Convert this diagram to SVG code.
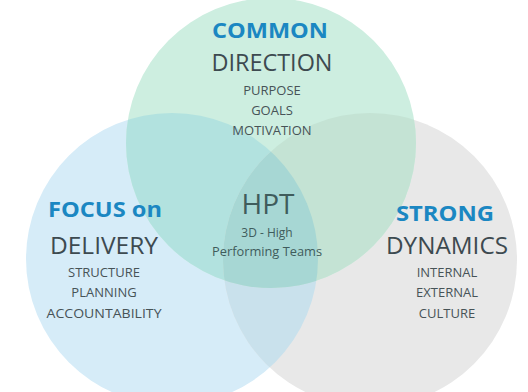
<svg xmlns="http://www.w3.org/2000/svg" width="528" height="392" viewBox="0 0 528 392">
<style>
text{font-family:"Open Sans","Noto Sans","Liberation Sans",sans-serif;text-anchor:middle}
.t{font-weight:bold;fill:#1b87c2;font-size:21px}
.h{fill:#3d4a50;font-size:24px}
.s{fill:#475357;font-size:13px}
.c{fill:#3f5c5c}
</style>
<defs>
<clipPath id="cg"><circle cx="271" cy="143" r="145"/></clipPath>
<clipPath id="cb"><circle cx="172" cy="259" r="146"/></clipPath>
<clipPath id="cy"><circle cx="370" cy="260" r="147"/></clipPath>
</defs>
<rect width="528" height="392" fill="#ffffff"/>
<g id="circle-delivery"><circle cx="172" cy="259" r="146" fill="#d6ecf8"/></g>
<g id="circle-dynamics"><circle cx="370" cy="260" r="147" fill="#e8e8e8"/></g>
<g id="circle-direction"><circle cx="271" cy="143" r="145" fill="#cdeee0"/></g>
<g id="overlaps">
<g clip-path="url(#cb)"><circle cx="271" cy="143" r="145" fill="#b2e2df"/><circle cx="370" cy="260" r="147" fill="#c9e1ec"/></g>
<g clip-path="url(#cg)"><circle cx="370" cy="260" r="147" fill="#c4e3d4"/></g>
<g clip-path="url(#cb)"><g clip-path="url(#cg)"><circle cx="370" cy="260" r="147" fill="#a7d7d4"/></g></g>
</g>
<g id="node-direction">
<text class="t" x="270" y="38" textLength="116" lengthAdjust="spacingAndGlyphs">COMMON</text>
<text class="h" x="272" y="71" textLength="121" lengthAdjust="spacingAndGlyphs">DIRECTION</text>
<text class="s" x="272" y="95">PURPOSE</text>
<text class="s" x="272" y="115">GOALS</text>
<text class="s" x="272" y="135">MOTIVATION</text>
</g>
<g id="node-delivery">
<text class="t" x="105" y="217" textLength="114" lengthAdjust="spacingAndGlyphs">FOCUS on</text>
<text class="h" x="104" y="254" textLength="108" lengthAdjust="spacingAndGlyphs">DELIVERY</text>
<text class="s" x="104" y="277">STRUCTURE</text>
<text class="s" x="104" y="297">PLANNING</text>
<text class="s" x="104" y="318" textLength="115" lengthAdjust="spacingAndGlyphs">ACCOUNTABILITY</text>
</g>
<g id="node-dynamics">
<text class="t" x="445" y="221" textLength="98" lengthAdjust="spacingAndGlyphs">STRONG</text>
<text class="h" x="447" y="254" textLength="122" lengthAdjust="spacingAndGlyphs">DYNAMICS</text>
<text class="s" x="447" y="277">INTERNAL</text>
<text class="s" x="447" y="297">EXTERNAL</text>
<text class="s" x="447" y="318">CULTURE</text>
</g>
<g id="node-hpt">
<text class="h c" x="268" y="214" style="font-size:28px" textLength="53" lengthAdjust="spacingAndGlyphs">HPT</text>
<text class="s c" x="267" y="237" style="font-size:12px">3D - High</text>
<text class="s c" x="267" y="256" style="font-size:12px" textLength="110" lengthAdjust="spacingAndGlyphs">Performing Teams</text>
</g>
<g id="connectors"></g>
</svg>
